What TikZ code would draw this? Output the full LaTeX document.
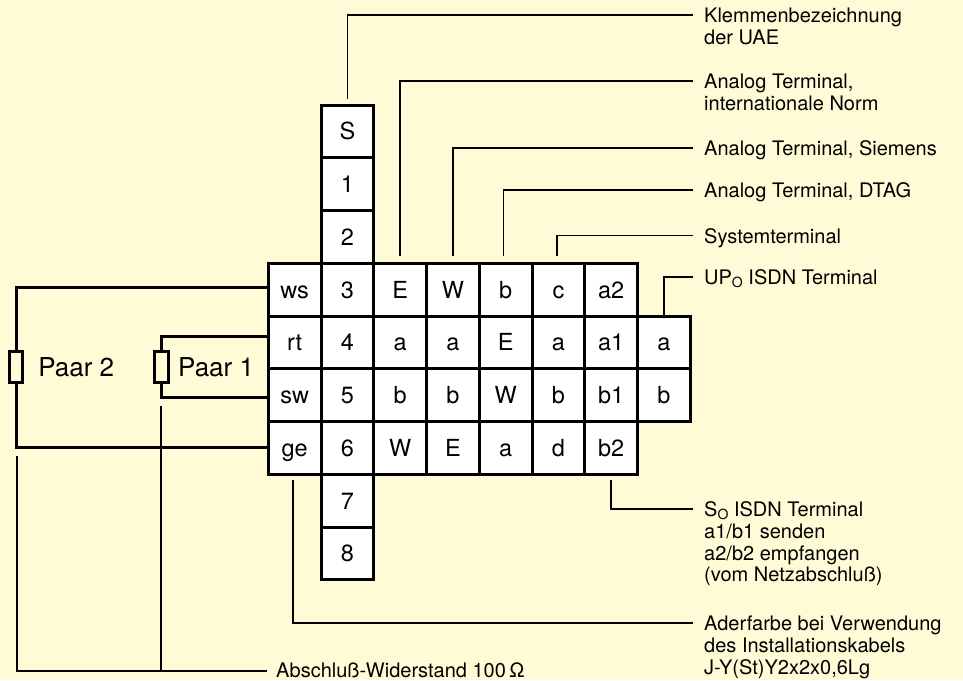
\documentclass[tikz,border=0pt]{standalone}
\usepackage{fontspec}
\setmainfont{TeX Gyre Heros}
\usetikzlibrary{positioning}
\definecolor{paper}{HTML}{FFFBD7}
\newcommand{\subO}{\raisebox{-3pt}{\fontsize{14}{14}\selectfont O}}
\tikzset{
  cell/.style={draw, rectangle, fill=white, line width=3pt, outer sep=0pt, inner sep=0pt, minimum size=52.75pt, text height=16.7pt, text depth=0pt, font=\fontsize{23.5}{25}\selectfont},
  wire/.style={line width=3pt},
  res/.style={draw, rectangle, line width=3pt, outer sep=0pt, inner sep=0pt, minimum width=13pt, minimum height=31pt},
  pair/.style={inner sep=0pt, font=\fontsize{26}{28}\selectfont},
  lbl/.style={anchor=north west, align=left, inner sep=0pt, font=\fontsize{20}{21.7}\selectfont},
  leader/.style={line width=1.5pt},
}
\begin{document}
\begin{tikzpicture}[x=1pt, y=-1pt]

\path[fill=paper, use as bounding box] (0,0) rectangle (963,680);

\node[cell] (pS) at (347.4,131.4) {S};
\node[cell, below=0pt of pS] (p1) {1};
\node[cell, below=0pt of p1] (p2) {2};
\node[cell, below=0pt of p2] (p3) {3};
\node[cell, below=0pt of p3] (p4) {4};
\node[cell, below=0pt of p4] (p5) {5};
\node[cell, below=0pt of p5] (p6) {6};
\node[cell, below=0pt of p6] (p7) {7};
\node[cell, below=0pt of p7] (p8) {8};

\node[cell, left=0pt of p3] (ws) {ws};
\node[cell, left=0pt of p4] (rt) {rt};
\node[cell, left=0pt of p5] (sw) {sw};
\node[cell, left=0pt of p6] (ge) {ge};

\node[cell, right=0pt of p3] (intE) {E};
\node[cell, right=0pt of p4] (intA) {a};
\node[cell, right=0pt of p5] (intB) {b};
\node[cell, right=0pt of p6] (intW) {W};

\node[cell, right=0pt of intE] (simW) {W};
\node[cell, right=0pt of intA] (simA) {a};
\node[cell, right=0pt of intB] (simB) {b};
\node[cell, right=0pt of intW] (simE) {E};

\node[cell, right=0pt of simW] (dtagB) {b};
\node[cell, right=0pt of simA] (dtagE) {E};
\node[cell, right=0pt of simB] (dtagW) {W};
\node[cell, right=0pt of simE] (dtagA) {a};

\node[cell, right=0pt of dtagB] (sysC) {c};
\node[cell, right=0pt of dtagE] (sysA) {a};
\node[cell, right=0pt of dtagW] (sysB) {b};
\node[cell, right=0pt of dtagA] (sysD) {d};

\node[cell, right=0pt of sysC] (soA2) {a2};
\node[cell, right=0pt of sysA] (soA1) {a1};
\node[cell, right=0pt of sysB] (soB1) {b1};
\node[cell, right=0pt of sysD] (soB2) {b2};

\node[cell, right=0pt of soA1] (upA) {a};
\node[cell, right=0pt of soB1] (upB) {b};

\node[res] (rTwo) at (16,367) {};
\node[res, minimum width=14pt] (rOne) at (161.5,367) {};
\node[pair, right=15.6pt of rTwo] (paarTwo) {Paar 2};
\node[pair, right=9.5pt of rOne] (paarOne) {Paar 1};

\draw[wire] ([yshift=2.5pt]ws.west) -| (rTwo.north);
\draw[wire] (rTwo.south) |- (ge.west);
\draw[wire] ([yshift=6pt]rt.west) -| (rOne.north);
\draw[wire] (rOne.south) |- ([yshift=-2.5pt]sw.west);

\node[lbl] (lKlemme) at (704,7.5) {\strut Klemmenbezeichnung\\der UAE};
\node[lbl] (lInt) at (704,73.5) {\strut Analog Terminal,\\internationale Norm};
\node[lbl] (lSiemens) at (704,140.5) {\strut Analog Terminal, Siemens};
\node[lbl] (lDtag) at (704,182.5) {\strut Analog Terminal, DTAG};
\node[lbl] (lSys) at (704,228) {\strut Systemterminal};
\node[lbl] (lUp) at (704,269.5) {\strut UP\subO{} ISDN Terminal};
\node[lbl] (lSo) at (704,501.5) {\strut S\subO{} ISDN Terminal\\a1/b1 senden\\a2/b2 empfangen\\(vom Netzabschluß)};
\node[lbl] (lAder) at (704,615.5) {\strut Aderfarbe bei Verwendung\\des Installationskabels\\J-Y(St)Y2x2x0,6Lg};
\node[lbl] (lAbs) at (276,662) {\strut Abschluß-Widerstand 100\,Ω};

\draw[leader] ([yshift=6pt]pS.north) |- ([xshift=-11pt,yshift=-7.5pt]lKlemme.north west);
\draw[leader] ([yshift=7pt]intE.north) |- ([xshift=-11pt,yshift=-7.5pt]lInt.north west);
\draw[leader] ([yshift=7pt]simW.north) |- ([xshift=-11pt,yshift=-7.5pt]lSiemens.north west);
\draw[leader] ([xshift=-2pt,yshift=7pt]dtagB.north) |- ([xshift=-11pt,yshift=-7.5pt]lDtag.north west);
\draw[leader] ([xshift=-1.5pt,yshift=7pt]sysC.north) |- ([xshift=-11pt,yshift=-7.5pt]lSys.north west);
\draw[leader] (upA.north) |- ([xshift=-11pt,yshift=-7.5pt]lUp.north west);
\draw[leader] ([yshift=-6pt]soB2.south) |- ([xshift=-11pt,yshift=-7.5pt]lSo.north west);
\draw[leader] ([xshift=-1.5pt,yshift=-6pt]ge.south) |- ([xshift=-11pt,yshift=-7.5pt]lAder.north west);

\coordinate (tailTwo) at (17,456);
\coordinate (tailOne) at (161,406);
\coordinate (tailJoin) at (161,671);
\draw[leader] (tailTwo) |- ([xshift=-9pt,yshift=-9pt]lAbs.north west);
\draw[leader, line width=2pt] (tailOne) -- (tailJoin);

\end{tikzpicture}
\end{document}
